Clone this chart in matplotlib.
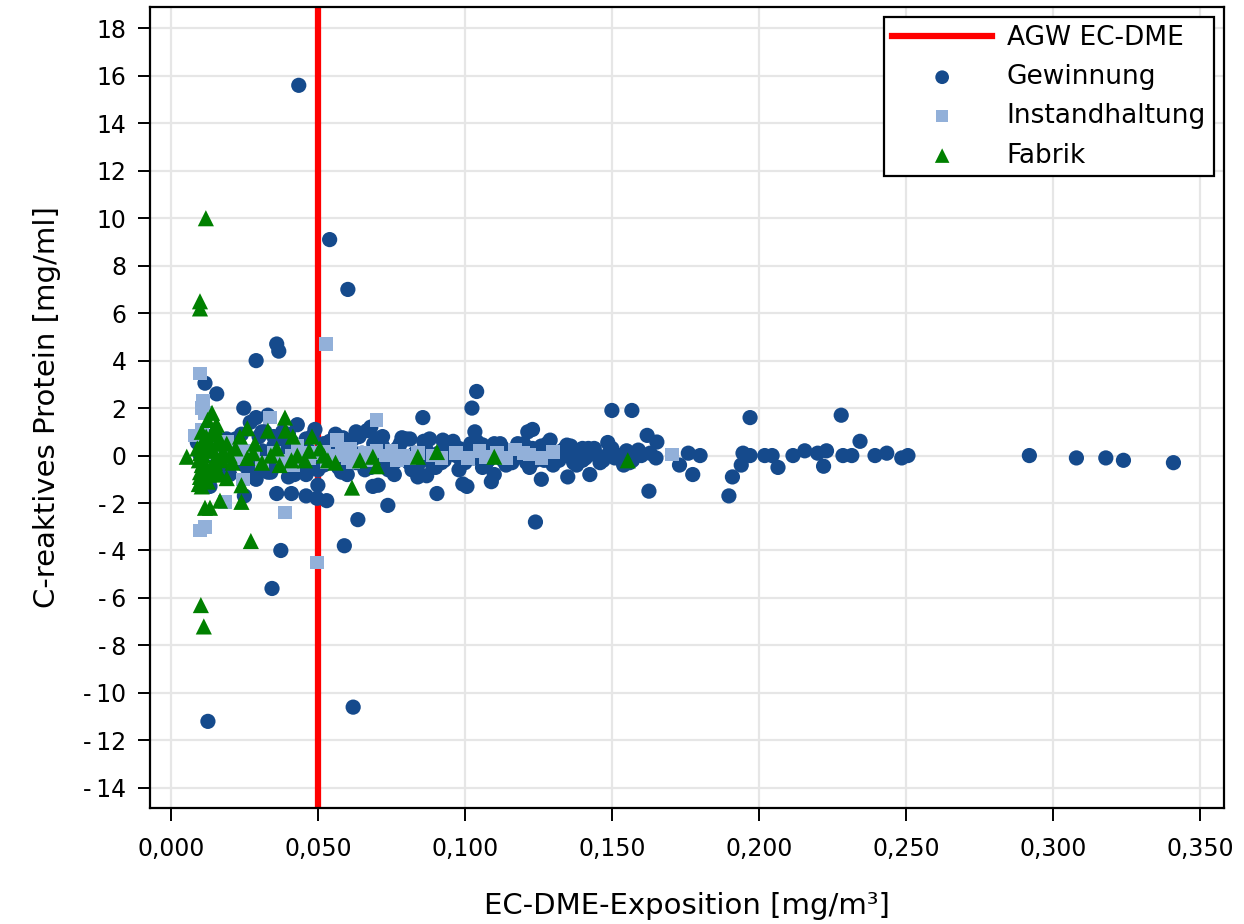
import matplotlib
matplotlib.use("Agg")
import matplotlib.pyplot as plt
from matplotlib.ticker import FixedLocator, FuncFormatter

# Gewinnung (circles)
gew_x = [0.0435, 0.054, 0.0602, 0.036, 0.0367, 0.029, 0.0116, 0.0156, 0.0248, 0.027,
         0.029, 0.033, 0.043, 0.049, 0.0857, 0.1024, 0.104, 0.1034, 0.1214, 0.123,
         0.150, 0.1568, 0.197, 0.228, 0.2344, 0.162, 0.1653,
         0.0126, 0.062, 0.0344, 0.0374, 0.059, 0.0636, 0.124, 0.0738, 0.053, 0.0497,
         0.046, 0.041, 0.036, 0.0905, 0.1007, 0.0993, 0.109, 0.110, 0.126, 0.135,
         0.1425, 0.1626, 0.1775, 0.1898, 0.191, 0.194, 0.2065, 0.222, 0.0687, 0.0705,
         0.076, 0.084, 0.087, 0.060, 0.046, 0.050, 0.0133, 0.025, 0.029, 0.020,
         0.033, 0.040, 0.044, 0.173, 0.156,
         0.009, 0.015, 0.019, 0.022, 0.031, 0.035, 0.038, 0.041, 0.045, 0.052,
         0.0585, 0.063, 0.0667, 0.068, 0.0786, 0.0813, 0.0864, 0.0925, 0.0956, 0.129,
         0.1347, 0.1425, 0.1486, 0.159, 0.072, 0.098, 0.106, 0.113, 0.118, 0.140,
         0.010, 0.012, 0.014, 0.017, 0.019, 0.021, 0.023, 0.025, 0.027, 0.029,
         0.031, 0.033, 0.035, 0.037, 0.039, 0.041, 0.043, 0.045, 0.047, 0.049,
         0.051, 0.053, 0.055, 0.057, 0.059, 0.061, 0.063, 0.065, 0.067, 0.069,
         0.071, 0.073, 0.075, 0.077, 0.079, 0.081, 0.083, 0.085, 0.087, 0.089,
         0.091, 0.093, 0.095, 0.097, 0.099, 0.101, 0.103, 0.105, 0.107, 0.109,
         0.111, 0.113, 0.115, 0.117, 0.119, 0.121, 0.123, 0.125, 0.127, 0.129,
         0.131, 0.133, 0.135, 0.137, 0.139, 0.141, 0.143, 0.145, 0.147, 0.149,
         0.151, 0.153, 0.155, 0.157, 0.160, 0.163, 0.165, 0.176, 0.180, 0.1946,
         0.197, 0.202, 0.2045, 0.2116, 0.2156, 0.220, 0.223, 0.2286, 0.2316, 0.2395,
         0.2435, 0.2486, 0.2507, 0.292, 0.308, 0.318, 0.324, 0.341,
         0.015, 0.018, 0.022, 0.026, 0.030, 0.034, 0.038, 0.042, 0.046, 0.050,
         0.054, 0.058, 0.062, 0.066, 0.070, 0.074, 0.078, 0.082, 0.086, 0.090,
         0.094, 0.098, 0.102, 0.106, 0.110, 0.114, 0.118, 0.122, 0.126, 0.130,
         0.134, 0.138, 0.142, 0.146, 0.150, 0.154,
         0.020, 0.024, 0.028, 0.032, 0.036, 0.040, 0.044, 0.048, 0.052, 0.056,
         0.060, 0.064, 0.068, 0.072, 0.076, 0.080, 0.084, 0.088, 0.092, 0.096,
         0.100, 0.104, 0.108, 0.112, 0.116, 0.120, 0.124, 0.128, 0.132, 0.136,
         0.140, 0.144]
gew_y = [15.6, 9.1, 7.0, 4.7, 4.4, 4.0, 3.05, 2.6, 2.0, 1.4,
         1.6, 1.7, 1.3, 1.1, 1.6, 2.0, 2.7, 1.0, 1.0, 1.1,
         1.9, 1.9, 1.6, 1.7, 0.6, 0.85, 0.57,
         -11.2, -10.6, -5.6, -4.0, -3.8, -2.7, -2.8, -2.1, -1.9, -1.8,
         -1.7, -1.6, -1.6, -1.6, -1.3, -1.2, -1.1, -0.8, -1.0, -0.9,
         -0.8, -1.5, -0.8, -1.7, -0.9, -0.4, -0.5, -0.45, -1.3, -1.25,
         -0.8, -0.9, -0.85, -0.8, -0.8, -1.25, -1.3, -1.7, -1.0, -0.8,
         -0.7, -0.9, -0.5, -0.4, -0.3,
         0.55, 0.9, 0.7, 0.5, 1.0, 0.8, 1.0, 0.6, 0.4, 0.5,
         0.75, 1.0, 1.05, 1.2, 0.75, 0.7, 0.44, 0.65, 0.5, 0.65,
         0.44, 0.15, 0.55, 0.23, 0.4, 0.3, 0.45, 0.3, 0.5, 0.3,
         0.0, -0.3, 0.2, -0.5, 0.1, -0.2, 0.3, -0.4, 0.0, -0.6,
         0.2, -0.2, 0.4, -0.3, 0.1, -0.5, 0.3, -0.1, 0.2, -0.4,
         0.1, -0.2, 0.4, -0.5, 0.0, 0.3, -0.3, 0.1, -0.1, 0.5,
         -0.4, 0.2, -0.2, 0.3, 0.0, -0.3, 0.1, -0.1, 0.2, -0.4,
         0.1, -0.2, 0.3, 0.0, -0.3, 0.2, -0.1, 0.1, -0.4, 0.3,
         0.0, -0.2, 0.2, -0.1, 0.1, -0.3, 0.3, 0.0, -0.2, 0.1,
         -0.1, 0.2, 0.0, -0.3, 0.1, -0.1, 0.2, 0.0, -0.2, 0.1,
         -0.1, 0.0, 0.2, -0.2, 0.0, 0.1, -0.1, 0.1, 0.0, 0.1,
         0.0, 0.0, 0.0, 0.0, 0.2, 0.1, 0.2, 0.0, 0.0, 0.0,
         0.1, -0.1, 0.0, 0.0, -0.1, -0.1, -0.2, -0.3,
         0.5, -0.8, 0.7, -0.9, 0.8, -0.7, 0.6, -0.8, 0.7, -0.6,
         0.6, -0.7, 0.7, -0.6, 0.7, -0.6, 0.5, -0.6, 0.6, -0.5,
         0.4, -0.6, 0.5, -0.5, 0.5, -0.4, 0.4, -0.5, 0.4, -0.4,
         0.3, -0.4, 0.3, -0.3, 0.3, -0.4,
         -0.4, 0.9, -0.5, 1.0, -0.3, 0.9, -0.5, 0.8, -0.4, 0.9,
         -0.3, 0.8, -0.5, 0.8, -0.3, 0.7, -0.4, 0.7, -0.3, 0.6,
         -0.3, 0.6, -0.2, 0.5, -0.3, 0.5, -0.2, 0.5, -0.2, 0.4,
         -0.2, 0.3]

# Instandhaltung (squares)
ins_x = [0.0099, 0.011, 0.0116, 0.0527, 0.0337, 0.070, 0.0184, 0.0388, 0.0099, 0.0116,
         0.0497, 0.061, 0.060, 0.064, 0.070, 0.073, 0.077, 0.079, 0.089, 0.105,
         0.107, 0.117, 0.122, 0.130, 0.046, 0.052, 0.056, 0.1704, 0.0105, 0.0105,
         0.019, 0.0235, 0.0245, 0.008, 0.0415, 0.0585, 0.0565, 0.020, 0.022, 0.028,
         0.031, 0.035, 0.038, 0.043, 0.047, 0.053, 0.058, 0.016, 0.013,
         0.041, 0.044, 0.050, 0.055, 0.062, 0.066, 0.068, 0.075, 0.081, 0.084,
         0.092, 0.097, 0.101, 0.111, 0.114, 0.126, 0.120, 0.025, 0.017, 0.014]
ins_y = [3.45, 2.3, 1.8, 4.7, 1.6, 1.5, -1.95, -2.4, -3.15, -3.0,
         -4.5, 0.3, -0.1, 0.0, 0.2, 0.0, -0.2, 0.0, 0.0, 0.2,
         -0.05, 0.25, 0.05, 0.15, 0.1, 0.15, 0.0, 0.05, 2.0, 1.07,
         0.57, 0.23, -1.0, 0.85, -0.4, 0.1, 0.65, 0.3, -0.1, 0.2,
         -0.3, 0.1, -0.2, 0.4, -0.1, -0.3, 0.2, 0.4, -0.5,
         0.0, -0.2, 0.1, -0.2, -0.3, 0.1, -0.2, 0.2, -0.1, 0.1,
         -0.1, 0.1, -0.1, 0.1, -0.1, -0.1, 0.1, 0.1, -0.2, 0.1]

# Fabrik (triangles)
fab_x = [0.0119, 0.0099, 0.0099, 0.0102, 0.0112, 0.0272, 0.0116, 0.0133, 0.0167, 0.024,
         0.024, 0.0616, 0.014, 0.015, 0.0388, 0.026, 0.0235, 0.033, 0.039, 0.0415,
         0.048, 0.0507, 0.0687, 0.0643, 0.0054, 0.0286, 0.036, 0.0456, 0.041, 0.0534,
         0.070, 0.084, 0.0905, 0.110, 0.1554, 0.0156, 0.0105, 0.0116, 0.0143, 0.020,
         0.0167, 0.011, 0.0099, 0.011, 0.0126, 0.0167, 0.019, 0.0099, 0.010, 0.0105,
         0.012, 0.013, 0.0125, 0.015, 0.016, 0.018, 0.021, 0.022, 0.026, 0.028,
         0.031, 0.034, 0.037, 0.043, 0.047, 0.052, 0.056,
         0.009, 0.0095, 0.0105, 0.011, 0.0115, 0.012, 0.0125, 0.013, 0.0135, 0.014,
         0.0145, 0.0155, 0.0165, 0.0175, 0.019, 0.0095, 0.0105, 0.0125]
fab_y = [10.0, 6.5, 6.2, -6.3, -7.2, -3.6, -2.2, -2.2, -1.9, -1.95,
         -1.25, -1.35, 1.8, 1.2, 1.6, 1.15, 0.8, 1.05, 1.05, 0.8,
         0.8, 0.3, -0.05, -0.2, -0.05, 0.5, 0.3, -0.2, -0.2, -0.2,
         -0.45, -0.05, 0.15, -0.05, -0.2, 1.3, 1.0, 0.73, 0.23, 0.0,
         -0.1, -0.3, -0.7, -1.0, -1.1, -0.8, -0.95, -0.9, 0.1, -0.4,
         0.4, 0.6, -0.6, -0.3, 0.5, 0.1, -0.3, 0.3, -0.1, 0.1,
         -0.3, 0.0, -0.4, 0.0, 0.2, 0.0, -0.3,
         0.3, -0.2, 0.5, 0.0, -0.5, 0.8, 0.2, -0.8, 0.4, -0.4,
         0.9, -0.6, 0.7, -0.2, 0.5, -1.2, -1.3, 1.5]

agw_limit = 0.05
x_ticks = [0.0, 0.05, 0.10, 0.15, 0.20, 0.25, 0.30, 0.35]
y_ticks = list(range(-14, 19, 2))


def y_fmt(v, pos):
    v = int(round(v))
    return f"-\u2009{abs(v)}" if v < 0 else f"{v}"


plt.rcParams['font.family'] = ['DejaVu Sans']

fig = plt.figure(figsize=(12.44, 9.24), dpi=100)
ax = fig.add_axes([150 / 1244, 116 / 924, (1224 - 150) / 1244, (917 - 116) / 924])

ax.axvline(agw_limit, color='#ff0000', lw=4.5, zorder=2, label='AGW EC-DME')
ax.scatter(gew_x, gew_y, s=120, marker='o', color='#154a8c', edgecolors='none',
           zorder=3, label='Gewinnung')
ax.scatter(ins_x, ins_y, s=95, marker='s', color='#92b0d9', edgecolors='none',
           zorder=4, label='Instandhaltung')
ax.scatter(fab_x, fab_y, s=135, marker='^', color='#008000', edgecolors='none',
           zorder=5, label='Fabrik')

ax.set_xlim(-0.0071, 0.3582)
ax.set_ylim(-14.85, 18.9)
ax.xaxis.set_major_locator(FixedLocator(x_ticks))
ax.yaxis.set_major_locator(FixedLocator(y_ticks))
ax.xaxis.set_major_formatter(FuncFormatter(lambda v, p: f"{v:.3f}".replace('.', ',')))
ax.yaxis.set_major_formatter(FuncFormatter(y_fmt))

ax.grid(True, color='#e6e6e6', lw=1.6, zorder=0)
ax.set_axisbelow(True)
for sp in ax.spines.values():
    sp.set_linewidth(1.6)
    sp.set_color('black')
ax.tick_params(axis='both', direction='out', length=9, width=1.4, labelsize=17)
ax.tick_params(axis='x', pad=12)
ax.tick_params(axis='y', pad=8)

ax.set_xlabel('EC-DME-Exposition [mg/m³]', fontsize=21, labelpad=22)
ax.set_ylabel('C-reaktives Protein [mg/ml]', fontsize=21, labelpad=16)

leg = ax.legend(loc='upper right', fontsize=19, frameon=True, fancybox=False,
                edgecolor='black', framealpha=1, handlelength=3.8, borderpad=0.3,
                labelspacing=0.5, handletextpad=0.55, borderaxespad=0.38,
                scatterpoints=1, markerscale=0.9)
leg.get_frame().set_linewidth(1.6)

fig.savefig('out.png', dpi=100)
